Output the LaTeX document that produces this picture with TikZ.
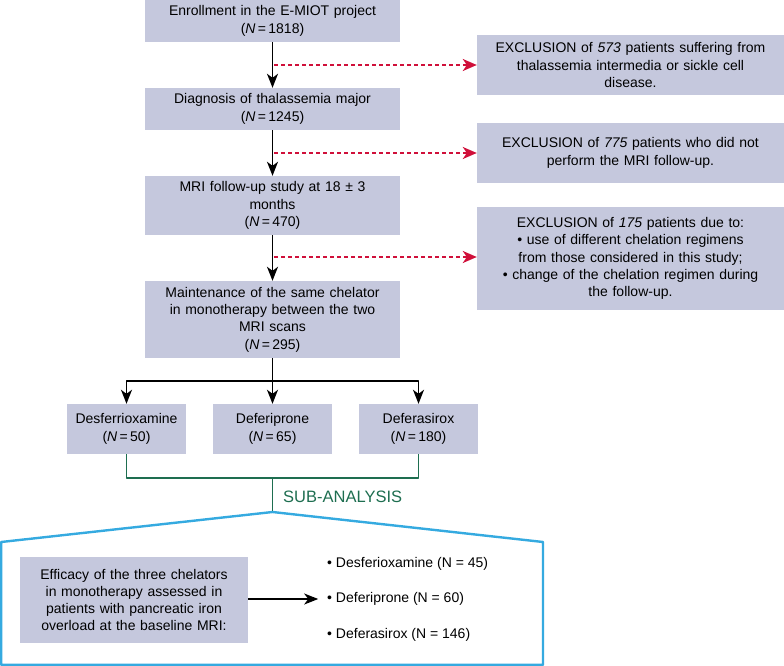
\documentclass[tikz,border=0pt]{standalone}
\usepackage{fontspec}
\setmainfont{Liberation Sans}
\usetikzlibrary{arrows.meta}
\definecolor{boxgray}{HTML}{C5C8DD}
\definecolor{exred}{HTML}{D0103A}
\definecolor{subgreen}{HTML}{1E6E50}
\definecolor{subblue}{HTML}{35AAE0}
\begin{document}
\begin{tikzpicture}[x=1pt, y=-1pt, font=\fontsize{14}{17.3}\selectfont, line join=round,
    >={Stealth[length=14pt, width=11pt, inset=4pt]},
    box/.style={fill=boxgray, inner sep=0pt, align=center},
    mainbox/.style={box, minimum width=255pt, text width=245pt},
    drugbox/.style={box, minimum width=119pt, minimum height=50pt, text width=115pt},
    exbox/.style={box, minimum width=307pt, text width=297pt},
    flow/.style={->, line width=1.8pt},
    exarrow/.style={-{Stealth[length=14pt, width=12pt, inset=4pt]}, exred, line width=1.8pt, dash pattern=on 4pt off 3pt, shorten <=1.5pt},
    subline/.style={subgreen, line width=1.6pt},
    pent/.style={subblue, line width=2.4pt}]
    \useasboundingbox (0,0) rectangle (784,666);
    % main column
    \node[mainbox, minimum height=42pt] (enroll) at (272.5,21) {Enrollment in the E-MIOT project\\(\textit{N}\,=\,1818)};
    \node[mainbox, minimum height=42pt] (diag) at (272.5,109) {Diagnosis of thalassemia major\\(\textit{N}\,=\,1245)};
    \node[mainbox, minimum height=59pt] (mri) at (272.5,205.5) {MRI follow-up study at 18 ± 3\\months\\(\textit{N}\,=\,470)};
    \node[mainbox, minimum height=77pt] (maint) at (272.5,319.5) {Maintenance of the same chelator\\in monotherapy between the two\\MRI scans\\(\textit{N}\,=\,295)};
    % exclusions
    \node[exbox, minimum height=60pt] (ex1) at (630.5,65) {EXCLUSION of \textit{573} patients suffering from\\thalassemia intermedia or sickle cell\\disease.};
    \node[exbox, minimum height=60pt] (ex2) at (630.5,153) {EXCLUSION of \textit{775} patients who did not\\perform the MRI follow-up.};
    \node[exbox, minimum height=103pt] (ex3) at (630.5,258.5) {EXCLUSION of \textit{175} patients due to:\\• use of different chelation regimens\\from those considered in this study;\\• change of the chelation regimen during\\the follow-up.};
    % chelators
    \node[drugbox] (desf) at (126.5,429) {Desferrioxamine\\(\textit{N}\,=\,50)};
    \node[drugbox] (deferi) at (272.5,429) {Deferiprone\\(\textit{N}\,=\,65)};
    \node[drugbox] (deferas) at (418.5,429) {Deferasirox\\(\textit{N}\,=\,180)};
    \draw[flow] (enroll) -- (diag);
    \draw[flow] (diag) -- (mri);
    \draw[flow] (mri) -- (maint);
    \draw[exarrow] (enroll.south |- ex1.west) -- (ex1.west);
    \draw[exarrow] (diag.south |- ex2.west) -- (ex2.west);
    \draw[exarrow] (mri.south |- 0,257) -- (ex3.west |- 0,257);
    \coordinate (split) at (272.5,381);
    \draw[flow] (maint) -- (deferi);
    \draw[flow] (split) -| (desf.north);
    \draw[flow] (split) -| (deferas.north);
    % sub-analysis
    \coordinate (join) at (272.5,478);
    \coordinate (apex) at (272.5,512);
    \draw[subline] (desf.south) |- (join) -| (deferas.south);
    \draw[subline] (join) -- (apex);
    \node[subgreen, anchor=west, inner sep=0pt, font=\fontsize{16.5}{20}\selectfont] (sub) at (283,497) {SUB-ANALYSIS};
    \draw[pent] (apex) -- (543,542) -- (543,664.8) -- (1.2,664.8) -- (1.2,542) -- cycle;
    \node[box, minimum width=228pt, minimum height=86pt, text width=220pt] (eff) at (134,600) {Efficacy of the three chelators\\in monotherapy assessed in\\patients with pancreatic iron\\overload at the baseline MRI:};
    \node[anchor=west, inner sep=0pt] (b1) at (327,564) {• Desferioxamine (N = 45)};
    \node[anchor=west, inner sep=0pt] (b2) at (327,599) {• Deferiprone (N = 60)};
    \node[anchor=west, inner sep=0pt] (b3) at (327,635) {• Deferasirox (N = 146)};
    \draw[flow] (eff.east |- b2.west) -- ++(70,0);
\end{tikzpicture}
\end{document}
